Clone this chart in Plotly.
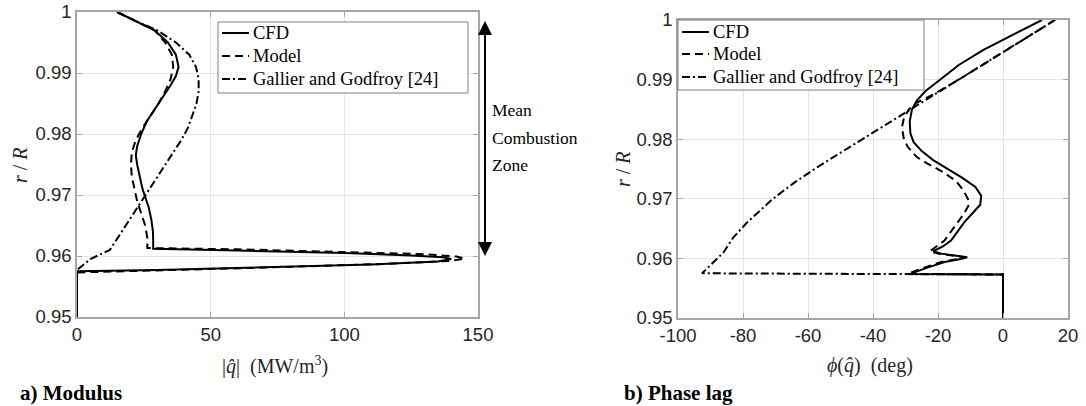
import plotly.graph_objects as go

# ---------------- a) Modulus: |q_hat| (MW/m^3) vs r/R ----------------
mod_cfd_q = [15, 22, 29, 34, 37, 38, 37, 35, 32, 29, 26, 24, 22.5, 22, 22.5, 23.5, 24.5, 25.5,
             26.8, 27.8, 28.4, 28.5, 28.5, 60, 100, 125, 137, 140, 135, 110, 70, 30, 0, 0]
mod_cfd_r = [1.000, 0.9985, 0.997, 0.995, 0.993, 0.991, 0.9895, 0.988, 0.986, 0.984, 0.982, 0.980,
             0.978, 0.9765, 0.975, 0.973, 0.971, 0.9697, 0.968, 0.966, 0.964, 0.9625, 0.9612,
             0.9609, 0.9605, 0.9601, 0.9598, 0.9595, 0.9591, 0.9586, 0.9581, 0.9577, 0.9575, 0.950]

mod_model_q = [15, 22, 29, 33, 35.5, 36, 35, 33, 30.5, 27.5, 24.5, 22, 20.5, 20.2, 20.5, 21.5,
               22.5, 24, 25.5, 26.3, 26.3, 60, 100, 130, 142, 145, 140, 115, 70, 30, 0, 0]
mod_model_r = [1.000, 0.9985, 0.997, 0.995, 0.993, 0.991, 0.989, 0.987, 0.985, 0.983, 0.981, 0.979,
               0.977, 0.975, 0.973, 0.971, 0.969, 0.967, 0.965, 0.963, 0.9613, 0.9611, 0.9607,
               0.9603, 0.9599, 0.9596, 0.9592, 0.9587, 0.9581, 0.9576, 0.9573, 0.950]

mod_gg_q = [15, 22, 30, 37, 42, 44.5, 45.5, 45.5, 44.7, 43, 41.5, 39, 36, 33, 30, 27, 25.2,
            23.6, 18.2, 12.3, 5, 0, 0]
mod_gg_r = [1.000, 0.9985, 0.997, 0.995, 0.993, 0.991, 0.989, 0.987, 0.985, 0.983, 0.981, 0.979,
            0.977, 0.975, 0.973, 0.971, 0.9697, 0.9687, 0.965, 0.961, 0.9595, 0.9577, 0.950]

# ---------------- b) Phase lag: phi(q_hat) (deg) vs r/R ----------------
ph_cfd_p = [12, 3, -6, -13.5, -19.5, -24, -26.5, -28, -28.7, -28.5, -27.5, -25, -21.5, -17,
            -12.5, -8.5, -6.7, -7, -9.5, -12, -14, -16, -18.5, -21.5, -19, -14, -11, -13, -18,
            -23, -27, -28.6, 0, 0]
ph_cfd_r = [1.000, 0.9975, 0.995, 0.9925, 0.990, 0.988, 0.9865, 0.985, 0.983, 0.981, 0.9795,
            0.978, 0.9765, 0.975, 0.9735, 0.972, 0.9705, 0.969, 0.9675, 0.966, 0.9645, 0.963,
            0.962, 0.9612, 0.9608, 0.9604, 0.9602, 0.9599, 0.9594, 0.9585, 0.9577, 0.9574,
            0.9573, 0.950]

ph_model_p = [16, 1.2, -13.6, -21.5, -26.7, -29, -30.5, -31.1, -30.5, -29.3, -26.5, -23.5, -18.5,
              -14.5, -12.3, -10.8, -10.5, -12, -14, -16, -18, -20.5, -22.5, -20, -15, -12, -14,
              -19, -24, -28, -29.5, 0, 0]
ph_model_r = [1.000, 0.995, 0.990, 0.9875, 0.9861, 0.985, 0.9835, 0.982, 0.980, 0.9787, 0.977,
              0.976, 0.9745, 0.973, 0.9715, 0.970, 0.969, 0.9675, 0.966, 0.9645, 0.963, 0.962,
              0.9612, 0.9608, 0.9604, 0.9602, 0.9599, 0.9594, 0.9585, 0.9577, 0.9574, 0.9573,
              0.950]

ph_gg_p = [16, 1.2, -13.6, -28.4, -43.3, -56, -64, -70.8, -78.8, -83, -86, -92.6, 0, 0]
ph_gg_r = [1.000, 0.995, 0.990, 0.985, 0.980, 0.9757, 0.9728, 0.970, 0.966, 0.9635, 0.961,
           0.9575, 0.9573, 0.950]

series_names = ["CFD", "Model", "Gallier and Godfroy [24]"]
dash_styles = ["solid", "8px,5px", "8px,3px,2px,3px"]

mod_x_ticks = [0, 50, 100, 150]
ph_x_ticks = [-100, -80, -60, -40, -20, 0, 20]
r_ticks = [0.95, 0.96, 0.97, 0.98, 0.99, 1.0]
r_tick_text = ["0.95", "0.96", "0.97", "0.98", "0.99", "1"]

W, H = 1086, 406
SERIF = "Liberation Serif"
SANS = "Liberation Sans"


def px(v):
    return v / W


def py(v):
    return 1 - v / H


fig = go.Figure()

for name, dash, xs, ys in zip(series_names, dash_styles,
                              [mod_cfd_q, mod_model_q, mod_gg_q],
                              [mod_cfd_r, mod_model_r, mod_gg_r]):
    fig.add_trace(go.Scatter(x=xs, y=ys, mode="lines", name=name, showlegend=False,
                             line=dict(color="black", width=2, dash=dash),
                             xaxis="x", yaxis="y"))

for name, dash, xs, ys in zip(series_names, dash_styles,
                              [ph_cfd_p, ph_model_p, ph_gg_p],
                              [ph_cfd_r, ph_model_r, ph_gg_r]):
    fig.add_trace(go.Scatter(x=xs, y=ys, mode="lines", name=name, showlegend=False,
                             line=dict(color="black", width=2, dash=dash),
                             xaxis="x2", yaxis="y2"))

axis_common = dict(
    showgrid=True, gridcolor="#e6e6e6", gridwidth=1,
    showline=True, linecolor="#a6a6a6", linewidth=1.5, mirror="ticks",
    ticks="inside", ticklen=5, tickcolor="#a6a6a6",
    zeroline=False, tickfont=dict(family=SANS, size=18.5, color="#262626"),
    fixedrange=True, automargin=False,
)

fig.update_layout(
    width=W, height=H,
    margin=dict(l=0, r=0, t=0, b=0, autoexpand=False),
    paper_bgcolor="white", plot_bgcolor="white",
    showlegend=False,
    xaxis=dict(domain=[px(77), px(478)], range=[0, 150], anchor="y",
               tickvals=mod_x_ticks, ticktext=[str(v) for v in mod_x_ticks], **axis_common),
    yaxis=dict(domain=[py(317), py(12)], range=[0.95, 1.0], anchor="x",
               tickvals=r_ticks, ticktext=r_tick_text, **axis_common),
    xaxis2=dict(domain=[px(678), px(1068)], range=[-100, 20], anchor="y2",
                tickvals=ph_x_ticks, ticktext=[str(v) for v in ph_x_ticks], **axis_common),
    yaxis2=dict(domain=[py(318), py(20)], range=[0.95, 1.0], anchor="x2",
                tickvals=r_ticks, ticktext=r_tick_text, **axis_common),
)

# Legend boxes drawn as shapes + text so the key sits exactly like the MATLAB one
shapes = []
annotations = []
legend_boxes = [
    # (left, top, right, bottom, sample x0, sample x1, text x, item y positions)
    (218, 22, 468, 93, 222, 249, 251, [33, 56, 79]),
    (678, 20, 924, 90, 682, 709, 711, [32, 54, 77]),
]
for (l, t, r, b, sx0, sx1, tx, ys) in legend_boxes:
    shapes.append(dict(type="rect", xref="paper", yref="paper",
                       x0=px(l), x1=px(r), y0=py(b), y1=py(t),
                       line=dict(color="#808080", width=1), fillcolor="white", layer="above"))
    for name, dash, yy in zip(series_names, dash_styles, ys):
        shapes.append(dict(type="line", xref="paper", yref="paper",
                           x0=px(sx0), x1=px(sx1), y0=py(yy), y1=py(yy),
                           line=dict(color="black", width=2, dash=dash), layer="above"))
        annotations.append(dict(xref="paper", yref="paper", x=px(tx), y=py(yy),
                                xanchor="left", yanchor="middle", text=name, showarrow=False,
                                font=dict(family=SERIF, size=18.5, color="black")))

annotations += [
    # double-headed arrow marking the mean combustion zone
    dict(xref="paper", yref="y", x=px(485), y=0.96, axref="pixel", ayref="pixel",
         ax=0, ay=-245, showarrow=True, arrowside="end+start", arrowhead=2,
         arrowsize=1.4, arrowwidth=2, arrowcolor="black", text=" "),
    dict(xref="paper", yref="paper", x=px(490), y=py(110), xanchor="left", yanchor="middle",
         text="Mean", showarrow=False, font=dict(family=SERIF, size=17.5, color="black")),
    dict(xref="paper", yref="paper", x=px(490), y=py(138), xanchor="left", yanchor="middle",
         text="Combustion", showarrow=False, font=dict(family=SERIF, size=17.5, color="black")),
    dict(xref="paper", yref="paper", x=px(490), y=py(165), xanchor="left", yanchor="middle",
         text="Zone", showarrow=False, font=dict(family=SERIF, size=17.5, color="black")),
    # axis titles
    dict(xref="paper", yref="paper", x=px(275), y=py(365), xanchor="center", yanchor="middle",
         text="|<i>q̂</i>|  (MW/m<sup>3</sup>)", showarrow=False,
         font=dict(family=SERIF, size=20, color="#262626")),
    dict(xref="paper", yref="paper", x=px(870), y=py(365), xanchor="center", yanchor="middle",
         text="<i>ϕ</i>(<i>q̂</i>)  (deg)", showarrow=False,
         font=dict(family=SERIF, size=20, color="#262626")),
    dict(xref="paper", yref="paper", x=px(20), y=py(165), xanchor="center", yanchor="middle",
         text="<i>r</i> / <i>R</i>", textangle=-90, showarrow=False,
         font=dict(family=SERIF, size=20, color="#262626")),
    dict(xref="paper", yref="paper", x=px(623), y=py(169), xanchor="center", yanchor="middle",
         text="<i>r</i> / <i>R</i>", textangle=-90, showarrow=False,
         font=dict(family=SERIF, size=20, color="#262626")),
    # panel captions
    dict(xref="paper", yref="paper", x=px(18), y=py(393), xanchor="left", yanchor="middle",
         text="<b>a) Modulus</b>", showarrow=False,
         font=dict(family=SERIF, size=21, color="black")),
    dict(xref="paper", yref="paper", x=px(622), y=py(393), xanchor="left", yanchor="middle",
         text="<b>b) Phase lag</b>", showarrow=False,
         font=dict(family=SERIF, size=21, color="black")),
]
fig.update_layout(shapes=shapes, annotations=annotations)

fig.write_html("out.html")
